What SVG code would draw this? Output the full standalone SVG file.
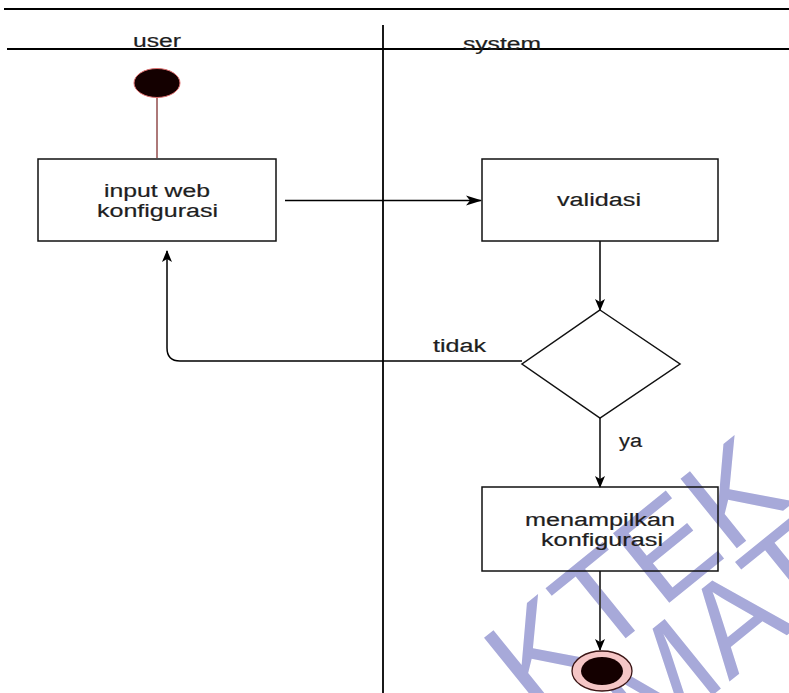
<svg xmlns="http://www.w3.org/2000/svg" width="789" height="693" viewBox="0 0 789 693">
  <defs>
    <style>
      .lane { stroke: #000; stroke-width: 1.8; fill: none; }
      .box { fill: none; stroke: #111; stroke-width: 1.5; }
      .lbl { font-family: "Liberation Sans", Arial, sans-serif; font-size: 18px; fill: #1e1e1e; stroke: #1e1e1e; stroke-width: 0.2; }
      .edge { stroke: #000; stroke-width: 1.5; fill: none; }
      .edge-g { stroke: #454545; stroke-width: 2; fill: none; }
      .wm { font-family: "Liberation Sans", Arial, sans-serif; font-size: 130px; fill: #a7a9d9; }
    </style>
    <marker id="arrow" viewBox="0 0 12 12" refX="11" refY="6" markerWidth="12" markerHeight="12" markerUnits="userSpaceOnUse" orient="auto">
      <path d="M0,1 L12,6 L0,11 L3,6 Z" fill="#000"/>
    </marker>
    <marker id="arrow-h" viewBox="0 0 16 12" refX="15" refY="6" markerWidth="16" markerHeight="12" markerUnits="userSpaceOnUse" orient="auto">
      <path d="M0,1 L16,6 L0,11 L4,6 Z" fill="#000"/>
    </marker>
  </defs>

  <rect width="789" height="693" fill="#fff"/>

  <!-- watermark lettering, laid under the drawing -->
  <g id="watermark">
    <text class="wm" transform="translate(532,714) rotate(-39)">KTEK</text>
    <text class="wm" transform="translate(645,750) rotate(-39)">MATI</text>
  </g>

  <!-- swimlane frame -->
  <g id="lanes">
    <line class="lane" x1="4" y1="9" x2="789" y2="9"/>
    <line class="lane" x1="7" y1="49" x2="789" y2="49"/>
    <line class="lane" x1="383" y1="25" x2="383" y2="693"/>
    <text class="lbl" x="133" y="47" textLength="48" lengthAdjust="spacingAndGlyphs">user</text>
    <text class="lbl" x="463" y="50" textLength="78" lengthAdjust="spacingAndGlyphs">system</text>
  </g>

  <!-- connectors -->
  <g id="connectors">
    <line x1="157" y1="97" x2="157" y2="158" stroke="#8a4040" stroke-width="1.4"/>
    <line class="edge" x1="285" y1="200.5" x2="481" y2="200.5" marker-end="url(#arrow-h)"/>
    <line class="edge" x1="600" y1="241" x2="600" y2="310" marker-end="url(#arrow)"/>
    <path class="edge" d="M522,361 L180,361 Q167,361 167,348 L167,251" marker-end="url(#arrow)"/>
    <line class="edge-g" x1="600" y1="418" x2="600" y2="487" marker-end="url(#arrow)"/>
    <line class="edge-g" x1="600" y1="571" x2="600" y2="650" marker-end="url(#arrow)"/>
    <text class="lbl" x="433" y="352" textLength="53" lengthAdjust="spacingAndGlyphs">tidak</text>
    <text class="lbl" x="619" y="447" textLength="23" lengthAdjust="spacingAndGlyphs">ya</text>
  </g>

  <g id="start">
    <ellipse cx="157" cy="83" rx="23" ry="14.5" fill="#140000" stroke="#e07070" stroke-width="1"/>
  </g>

  <g id="input-web">
    <rect class="box" x="38" y="159" width="238" height="82"/>
    <text class="lbl" x="104" y="197" textLength="106" lengthAdjust="spacingAndGlyphs">input web</text>
    <text class="lbl" x="97" y="217" textLength="121" lengthAdjust="spacingAndGlyphs">konfigurasi</text>
  </g>

  <g id="validasi">
    <rect class="box" x="482" y="159" width="236" height="82"/>
    <text class="lbl" x="557" y="206" textLength="84" lengthAdjust="spacingAndGlyphs">validasi</text>
  </g>

  <g id="decision">
    <polygon points="600,310 680,364 600,418 522,364" fill="none" stroke="#111" stroke-width="1.5"/>
  </g>

  <g id="menampilkan">
    <rect class="box" x="482" y="487" width="236" height="84"/>
    <text class="lbl" x="525" y="526" textLength="150" lengthAdjust="spacingAndGlyphs">menampilkan</text>
    <text class="lbl" x="541" y="546" textLength="122" lengthAdjust="spacingAndGlyphs">konfigurasi</text>
  </g>

  <g id="end">
    <ellipse cx="602" cy="671" rx="30" ry="20" fill="#f5c6c6" stroke="#3a1515" stroke-width="1.3"/>
    <ellipse cx="602" cy="671" rx="21" ry="14" fill="#140000"/>
  </g>
</svg>
